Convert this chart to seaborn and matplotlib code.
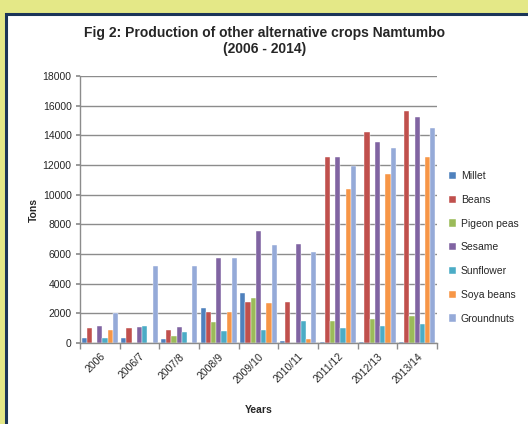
import matplotlib
matplotlib.use("Agg")
import matplotlib.pyplot as plt
from matplotlib.patches import Rectangle
import seaborn as sns
import pandas as pd

years = ["2006", "2006/7", "2007/8", "2008/9", "2009/10", "2010/11", "2011/12", "2012/13", "2013/14"]
millet      = [350, 350, 280, 2350, 3400, 150, 50, 50, 50]
beans       = [1000, 1000, 900, 2100, 2750, 2750, 12550, 14200, 15650]
pigeon_peas = [0, 0, 500, 1400, 3050, 0, 1500, 1600, 1830]
sesame      = [1150, 1100, 1100, 5750, 7550, 6700, 12550, 13550, 15250]
sunflower   = [350, 1150, 750, 800, 900, 1480, 1030, 1170, 1290]
soya_beans  = [900, 0, 0, 2100, 2680, 290, 10350, 11400, 12550]
groundnuts  = [2000, 5200, 5200, 5700, 6600, 6150, 11950, 13150, 14500]

crops = ["Millet", "Beans", "Pigeon peas", "Sesame", "Sunflower", "Soya beans", "Groundnuts"]
series = [millet, beans, pigeon_peas, sesame, sunflower, soya_beans, groundnuts]
colors = ["#4F81BD", "#C0504D", "#9BBB59", "#8064A2", "#4BACC6", "#F79646", "#95AAD8"]

rows = []
for crop, vals in zip(crops, series):
    for y, v in zip(years, vals):
        rows.append({"Year": y, "Crop": crop, "Tons": v})
df = pd.DataFrame(rows)

sns.set_theme(style="white")
plt.rcParams["font.family"] = ["Liberation Sans", "DejaVu Sans"]

W, H = 528, 424
fig = plt.figure(figsize=(W / 100, H / 100), dpi=100, facecolor="#E4E887")
fig.patches.append(Rectangle((6 / W, -0.05), 1.1, (H - 14) / H + 0.05,
                             transform=fig.transFigure, facecolor="white",
                             edgecolor="#1B3558", linewidth=2.2, zorder=-10))

ax = fig.add_axes([80 / W, (H - 343) / H, (437 - 80) / W, (343 - 76) / H])
ax.set_facecolor("white")
sns.barplot(data=df, x="Year", y="Tons", hue="Crop", hue_order=crops,
            palette=colors, width=0.92, ax=ax, edgecolor="white", linewidth=0.3,
            saturation=1)

ax.set_ylim(0, 18000)
ax.set_xlim(-0.5, len(years) - 0.5)
ax.set_yticks(range(0, 18001, 2000))
ax.yaxis.grid(True, color="#8C8C8C", linewidth=1)
ax.set_axisbelow(True)
for s in ["top", "right"]:
    ax.spines[s].set_visible(False)
for s in ["left", "bottom"]:
    ax.spines[s].set_color("#8C8C8C")
    ax.spines[s].set_linewidth(1)

ax.tick_params(axis="y", labelsize=7.5, length=3, color="#8C8C8C", left=True, pad=3)
ax.set_xticks(range(len(years)))
ax.set_xticklabels(years, rotation=45, ha="right", rotation_mode="anchor", fontsize=7.5)
ax.tick_params(axis="x", length=0, pad=6)
ax.set_xticks([i - 0.5 for i in range(len(years) + 1)], minor=True)
ax.tick_params(axis="x", which="minor", length=4, color="#8C8C8C", bottom=True)

ax.set_xlabel("Years", fontsize=7.5, fontweight="bold", labelpad=14)
ax.set_ylabel("Tons", fontsize=7.5, fontweight="bold", labelpad=3)

fig.text(265 / W, 1 - 41 / H, "Fig 2: Production of other alternative crops Namtumbo\n(2006 - 2014)",
         ha="center", va="center", fontsize=10, fontweight="bold", linespacing=1.1)

leg = ax.legend(loc="upper left", bbox_to_anchor=(445 / W, 1 - 167 / H),
                bbox_transform=fig.transFigure, frameon=False, fontsize=7.5,
                handlelength=0.7, handleheight=0.7, handletextpad=0.4,
                labelspacing=1.32, borderaxespad=0)

fig.savefig("out.png", dpi=100, facecolor=fig.get_facecolor())
